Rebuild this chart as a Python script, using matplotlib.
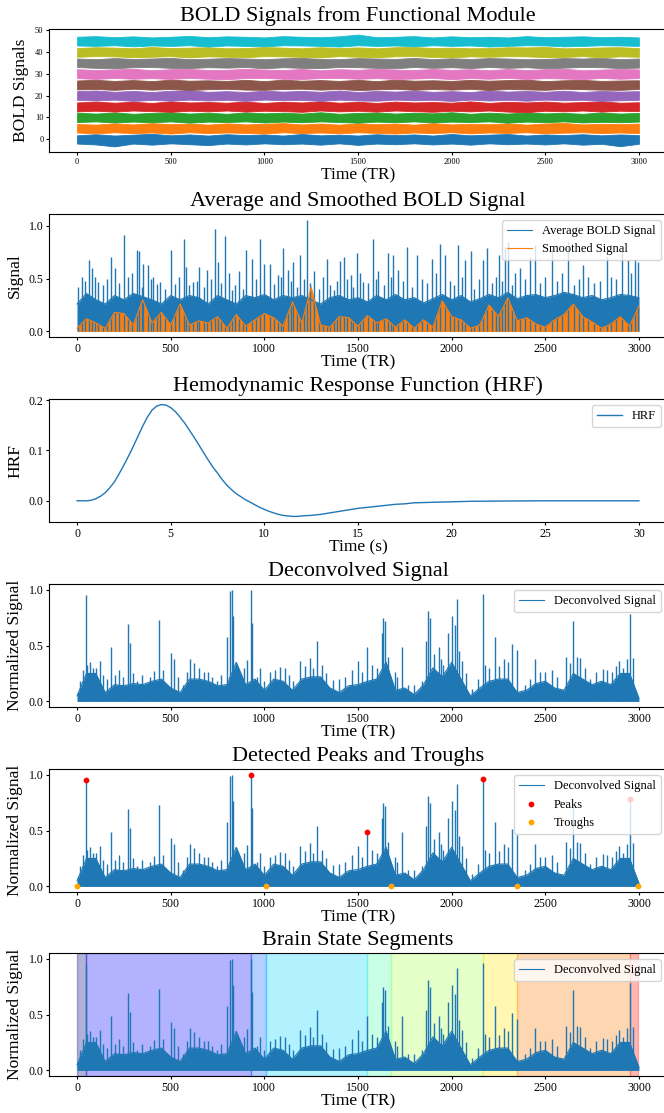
import matplotlib
matplotlib.use("Agg")
import numpy as np
import matplotlib.pyplot as plt

plt.rcParams["font.family"] = ["Liberation Serif", "DejaVu Serif"]

# ---- panel 1: ten module BOLD bands (offset 5 each), envelope every 100 TR
band_tr = np.arange(0, 3001, 100)
band_offsets = [0, 5, 10, 15, 20, 25, 30, 35, 40, 45]
m0_hi = [1.8, 2.3, 1.7, 2.1, 2.5, 1.8, 2.2, 1.7, 2.3, 1.9, 2.2, 1.7, 2.4, 1.8, 2.1, 1.7, 2.3, 1.9, 2.2, 1.7, 2.4, 1.8, 2.1, 2.4, 1.7, 2.2, 1.9, 2.3, 1.8, 2.2, 1.9]
m0_lo = [-2.0, -2.4, -3.3, -2.0, -2.5, -1.9, -2.3, -2.7, -2.0, -2.4, -1.9, -2.3, -2.0, -2.5, -1.9, -2.6, -2.0, -2.3, -1.9, -2.4, -2.0, -2.5, -1.9, -2.3, -2.0, -2.4, -1.9, -2.5, -2.1, -3.2, -2.1]
m1_hi = [2.0, 1.7, 2.3, 1.8, 2.4, 1.9, 2.2, 1.7, 2.3, 1.8, 2.1, 2.4, 1.8, 2.2, 1.7, 2.3, 1.9, 2.2, 1.7, 2.4, 1.8, 2.1, 1.9, 2.3, 1.7, 2.2, 2.5, 1.8, 2.1, 1.9, 2.2]
m1_lo = [-1.9, -2.3, -1.8, -2.2, -1.9, -2.4, -1.8, -2.2, -1.9, -2.1, -2.4, -1.8, -2.2, -1.9, -2.3, -1.8, -2.1, -2.4, -1.9, -2.2, -1.8, -2.3, -1.9, -2.1, -1.8, -2.3, -2.0, -1.8, -2.2, -1.9, -2.2]
m2_hi = [2.2, 1.8, 2.3, 1.7, 2.1, 2.4, 1.8, 2.2, 1.7, 2.3, 1.9, 2.2, 1.8, 2.4, 1.7, 2.1, 2.3, 1.8, 2.2, 1.9, 2.4, 1.7, 2.2, 1.8, 2.3, 1.9, 2.1, 1.7, 2.3, 1.8, 2.1]
m2_lo = [-2.1, -1.8, -2.3, -1.9, -2.2, -1.8, -2.4, -1.9, -2.1, -1.8, -2.3, -1.9, -2.2, -1.8, -2.1, -2.4, -1.9, -2.2, -1.8, -2.3, -1.9, -2.1, -1.8, -2.4, -1.9, -2.2, -1.8, -2.3, -2.0, -2.2, -1.9]
m3_hi = [1.9, 2.3, 1.8, 2.2, 1.7, 2.4, 1.9, 2.1, 1.8, 2.3, 1.7, 2.2, 1.9, 2.4, 1.8, 2.2, 1.7, 2.3, 1.9, 2.1, 1.8, 2.4, 1.7, 2.2, 1.9, 2.3, 1.8, 2.1, 2.4, 1.8, 2.0]
m3_lo = [-2.2, -1.9, -2.3, -1.8, -2.1, -2.4, -1.9, -2.2, -1.8, -2.3, -1.9, -2.1, -2.4, -1.8, -2.2, -1.9, -2.3, -1.8, -2.1, -2.4, -1.9, -2.2, -1.8, -2.3, -2.6, -1.9, -2.2, -1.8, -2.3, -1.9, -2.1]
m4_hi = [2.1, 2.4, 1.8, 2.2, 1.7, 2.3, 2.5, 1.8, 2.1, 1.7, 2.3, 1.9, 2.2, 1.8, 2.4, 1.7, 2.2, 1.9, 2.3, 1.8, 2.1, 1.7, 2.4, 1.9, 2.2, 1.8, 2.3, 1.7, 2.2, 1.9, 2.1]
m4_lo = [-1.9, -2.2, -1.8, -2.4, -1.9, -2.3, -1.8, -2.2, -1.9, -2.4, -1.8, -2.1, -1.9, -2.4, -1.8, -2.2, -2.3, -1.8, -2.1, -1.9, -2.4, -1.8, -2.2, -1.9, -2.3, -1.8, -2.1, -1.9, -2.4, -2.1, -1.9]
m5_hi = [2.0, 2.3, 1.8, 2.2, 1.7, 2.4, 1.9, 2.1, 1.8, 2.3, 1.7, 2.4, 1.9, 2.2, 1.8, 2.3, 1.7, 2.4, 1.9, 2.1, 1.8, 2.3, 1.9, 2.2, 2.4, 1.7, 2.1, 2.3, 1.8, 2.0, 2.1]
m5_lo = [-2.1, -1.9, -2.3, -1.8, -2.2, -1.9, -2.4, -2.0, -1.8, -2.2, -2.3, -1.9, -1.8, -2.2, -1.9, -2.4, -2.1, -1.8, -2.3, -1.9, -2.2, -1.8, -2.4, -1.9, -2.1, -2.3, -1.8, -2.0, -2.2, -2.3, -1.9]
m6_hi = [2.2, 1.8, 2.1, 2.4, 1.7, 2.2, 2.3, 1.8, 1.9, 2.4, 2.0, 1.8, 2.3, 1.7, 2.2, 1.9, 2.4, 2.0, 1.8, 2.3, 1.9, 2.2, 1.7, 2.3, 1.8, 2.2, 2.4, 1.7, 2.0, 2.3, 2.1]
m6_lo = [-1.9, -2.3, -1.8, -2.2, -1.9, -2.3, -1.8, -2.2, -2.4, -1.9, -1.8, -2.2, -2.3, -1.9, -1.8, -2.2, -1.9, -2.3, -2.1, -1.8, -2.4, -1.9, -2.2, -1.8, -2.3, -1.9, -2.1, -2.4, -1.8, -2.2, -1.9]
m7_hi = [2.1, 1.8, 2.3, 1.9, 2.1, 2.4, 1.8, 2.0, 2.3, 2.1, 1.8, 2.2, 2.4, 1.9, 1.8, 2.3, 2.1, 1.9, 2.4, 1.8, 2.2, 1.9, 2.3, 2.1, 1.8, 1.9, 2.3, 2.1, 2.4, 1.8, 2.1]
m7_lo = [-1.8, -2.2, -2.4, -1.9, -1.8, -2.2, -2.3, -1.9, -2.1, -1.8, -2.4, -1.9, -2.2, -2.3, -1.8, -1.9, -2.2, -2.4, -1.8, -2.2, -1.9, -2.3, -1.8, -2.2, -1.9, -2.4, -2.1, -1.8, -1.9, -2.3, -2.1]
m8_hi = [1.9, 2.3, 2.1, 1.8, 2.4, 1.9, 2.1, 2.3, 1.8, 1.9, 2.4, 2.1, 1.8, 2.3, 1.9, 2.2, 1.8, 2.3, 2.4, 1.9, 2.1, 1.8, 1.9, 2.3, 2.2, 2.4, 1.8, 1.9, 2.2, 2.3, 1.9]
m8_lo = [-2.1, -1.8, -1.9, -2.3, -2.1, -1.8, -2.4, -1.9, -2.1, -2.3, -1.8, -1.9, -2.2, -2.4, -1.8, -2.1, -2.3, -1.9, -1.8, -2.2, -2.4, -1.9, -2.1, -1.8, -1.9, -2.3, -2.2, -1.8, -2.4, -1.9, -2.1]
m9_hi = [2.1, 2.4, 1.9, 2.3, 1.8, 2.1, 2.5, 1.9, 2.3, 2.1, 1.8, 2.4, 2.1, 1.9, 2.3, 3.1, 1.9, 2.1, 2.4, 1.8, 2.3, 1.9, 2.1, 1.8, 2.4, 1.9, 2.1, 2.3, 1.9, 2.1, 1.8]
m9_lo = [-1.9, -2.1, -1.8, -2.3, -1.9, -2.1, -1.8, -2.4, -1.9, -2.1, -2.3, -1.8, -1.9, -2.1, -2.4, -1.8, -2.1, -1.9, -2.3, -1.8, -2.1, -1.9, -2.4, -2.1, -1.8, -1.9, -2.3, -2.1, -1.8, -1.9, -2.1]
band_hi = [m0_hi, m1_hi, m2_hi, m3_hi, m4_hi, m5_hi, m6_hi, m7_hi, m8_hi, m9_hi]
band_lo = [m0_lo, m1_lo, m2_lo, m3_lo, m4_lo, m5_lo, m6_lo, m7_lo, m8_lo, m9_lo]

# ---- panel 2: average BOLD (dense base every 50 TR + strokes) and smoothed
grid_tr = np.arange(0, 3001, 50)
avg_base = [0.26, 0.36, 0.30, 0.26, 0.34, 0.30, 0.36, 0.33, 0.30, 0.26, 0.34, 0.30, 0.34, 0.32, 0.26, 0.34,
            0.30, 0.26, 0.34, 0.32, 0.35, 0.30, 0.34, 0.32, 0.34, 0.30, 0.26, 0.32, 0.34, 0.30, 0.32,
            0.28, 0.34, 0.30, 0.35, 0.30, 0.32, 0.27, 0.31, 0.35, 0.30, 0.34, 0.28, 0.31, 0.35, 0.32,
            0.37, 0.31, 0.34, 0.35, 0.32, 0.34, 0.37, 0.35, 0.32, 0.34, 0.30, 0.32, 0.35, 0.34, 0.32]
avg_pk_tr = [7, 25, 66, 78, 114, 180, 203, 253, 274, 319, 331, 354, 376, 408, 443, 500, 524, 572, 583, 619,
             653, 694, 739, 755, 791, 826, 865, 902, 935, 978, 1000, 1028, 1071, 1100, 1125, 1155, 1191,
             1227, 1263, 1334, 1370, 1402, 1424, 1460, 1493, 1529, 1579, 1609, 1662, 1689, 1716, 1760,
             1814, 1894, 1938, 1965, 2036, 2072, 2102, 2170, 2191, 2255, 2285, 2303, 2365, 2418, 2445,
             2534, 2623, 2702, 2828, 2908, 2944, 2980, 2997]
avg_pk_val = [0.42, 0.52, 0.68, 0.60, 0.47, 0.71, 0.60, 0.91, 0.52, 0.77, 0.76, 0.64, 0.63, 0.52, 0.47, 0.77,
              0.45, 0.88, 0.61, 0.47, 0.61, 0.58, 0.97, 0.66, 0.90, 0.39, 0.57, 0.77, 0.69, 0.88, 0.64,
              0.64, 0.53, 0.79, 0.58, 0.66, 0.72, 1.06, 0.57, 0.69, 0.39, 0.67, 0.71, 0.53, 0.74, 0.47,
              0.88, 0.57, 0.74, 0.72, 0.58, 0.80, 0.72, 0.69, 0.83, 0.72, 0.82, 0.68, 0.76, 0.68, 0.79,
              0.72, 0.80, 0.85, 0.60, 0.71, 0.82, 0.79, 0.86, 0.63, 0.71, 0.76, 0.68, 0.69, 0.66]
avg_mid_tr = [40, 95, 140, 160, 225, 295, 345, 395, 425, 470,
              545, 600, 640, 675, 715, 770, 810, 845, 885, 955,
              1050, 1090, 1140, 1175, 1210, 1245, 1290, 1315, 1350, 1390,
              1440, 1475, 1510, 1555, 1595, 1640, 1675, 1740, 1790, 1840,
              1870, 1915, 1990, 2010, 2055, 2120, 2145, 2215, 2235, 2270,
              2320, 2340, 2390, 2470, 2500, 2560, 2590, 2655, 2680, 2730,
              2760, 2790, 2850, 2880, 2960]
avg_mid_val = [0.48, 0.52, 0.44, 0.50, 0.46, 0.55, 0.42, 0.50, 0.45, 0.40,
               0.52, 0.44, 0.48, 0.42, 0.50, 0.46, 0.55, 0.44, 0.40, 0.50,
               0.45, 0.52, 0.48, 0.42, 0.50, 0.46, 0.40, 0.52, 0.44, 0.48,
               0.50, 0.42, 0.55, 0.46, 0.50, 0.44, 0.52, 0.48, 0.42, 0.50,
               0.46, 0.55, 0.48, 0.44, 0.52, 0.40, 0.50, 0.46, 0.52, 0.48,
               0.44, 0.55, 0.50, 0.46, 0.52, 0.48, 0.55, 0.44, 0.50, 0.52,
               0.46, 0.48, 0.52, 0.50, 0.55]
smooth_val = [0.03, 0.12, 0.08, 0.03, 0.18, 0.17, 0.06, 0.30, 0.08, 0.18,
              0.06, 0.26, 0.06, 0.10, 0.08, 0.14, 0.03, 0.16, 0.05, 0.11,
              0.17, 0.13, 0.05, 0.28, 0.08, 0.42, 0.06, 0.04, 0.14, 0.13,
              0.05, 0.15, 0.08, 0.12, 0.04, 0.11, 0.03, 0.11, 0.04, 0.29,
              0.14, 0.11, 0.03, 0.06, 0.25, 0.14, 0.32, 0.10, 0.13, 0.07,
              0.04, 0.11, 0.16, 0.26, 0.14, 0.09, 0.03, 0.07, 0.14, 0.05,
              0.24]

# ---- panel 3: HRF, read every 0.25 s to 12 s, 0.5 s to 20 s, 1 s to 30 s
hrf_t = np.concatenate([np.arange(0, 12.01, 0.25), np.arange(12.5, 20.01, 0.5), np.arange(21, 30.01, 1)])
hrf_val = [0.0, 0.0, 0.0, 0.001, 0.004, 0.009, 0.016, 0.026, 0.038, 0.054, 0.071, 0.089, 0.108,
           0.128, 0.148, 0.166, 0.180, 0.188, 0.191, 0.190, 0.185, 0.177, 0.166, 0.154, 0.140,
           0.126, 0.111, 0.096, 0.081, 0.067, 0.055, 0.042, 0.031, 0.022, 0.014, 0.008, 0.002,
           -0.003, -0.008, -0.013, -0.017, -0.021, -0.024, -0.027, -0.029, -0.030, -0.031, -0.031, -0.030,
           -0.029, -0.027, -0.024, -0.021, -0.018, -0.015, -0.013, -0.011, -0.009, -0.007, -0.006,
           -0.004, -0.0035, -0.003, -0.0025, -0.002,
           -0.001, -0.0007, -0.0004, -0.0002, 0.0, 0.0, 0.0, 0.0, 0.0, 0.0]

# ---- panels 4-6: deconvolved signal (dense base every 50 TR + strokes)
dec_base = [0.05, 0.25, 0.25, 0.08, 0.15, 0.14, 0.16, 0.15, 0.18, 0.20, 0.12, 0.08, 0.20, 0.20, 0.18, 0.14,
            0.15, 0.35, 0.15, 0.20, 0.10, 0.20, 0.18, 0.10, 0.20, 0.22, 0.22, 0.12, 0.08, 0.14, 0.15,
            0.18, 0.20, 0.35, 0.10, 0.12, 0.06, 0.15, 0.30, 0.22, 0.35, 0.20, 0.05, 0.12, 0.18, 0.20,
            0.20, 0.08, 0.10, 0.16, 0.18, 0.12, 0.10, 0.25, 0.20, 0.15, 0.18, 0.15, 0.25, 0.25, 0.03]
dec_pk_tr = [7, 30, 48, 55, 70, 87, 120, 141, 180, 203, 225, 274, 283, 322, 390, 438, 500, 518, 568, 601,
             625, 675, 719, 746, 799, 817, 826, 832, 870, 906, 927, 934, 977, 1030, 1084, 1155, 1191,
             1244, 1280, 1306, 1369, 1466, 1502, 1547, 1574, 1627, 1636, 1645, 1698, 1734, 1769, 1840,
             1864, 1876, 1884, 1930, 1956, 1983, 2000, 2018, 2027, 2054, 2107, 2166, 2179, 2232, 2277,
             2324, 2347, 2391, 2445, 2499, 2535, 2612, 2650, 2686, 2739, 2806, 2854, 2895, 2917, 2952,
             2967, 2988]
dec_pk_val = [0.08, 0.28, 0.95, 0.33, 0.35, 0.30, 0.36, 0.24, 0.49, 0.24, 0.28, 0.69, 0.52, 0.18, 0.22, 0.73,
              0.43, 0.38, 0.15, 0.38, 0.34, 0.26, 0.22, 0.18, 0.58, 0.99, 1.0, 0.76, 0.18, 0.37, 1.0, 0.70,
              0.30, 0.26, 0.31, 0.18, 0.36, 0.39, 0.54, 0.33, 0.19, 0.28, 0.36, 0.49, 0.33, 0.61, 0.75,
              0.72, 0.26, 0.49, 0.15, 0.18, 0.54, 0.81, 0.75, 0.49, 0.33, 0.61, 0.76, 0.68, 0.92, 0.36,
              0.11, 0.96, 0.33, 0.58, 0.38, 0.51, 0.46, 0.15, 0.38, 0.26, 0.28, 0.40, 0.72, 0.39, 0.20,
              0.29, 0.26, 0.36, 0.30, 0.78, 0.39, 0.05]
dec_mid_tr = [15, 100, 160, 245, 300, 345, 410, 460, 540, 585,
              650, 700, 770, 850, 890, 960, 1000, 1055, 1110, 1130,
              1215, 1260, 1330, 1400, 1430, 1520, 1600, 1660, 1710, 1800,
              1905, 1945, 2040, 2075, 2140, 2200, 2255, 2300, 2420, 2470,
              2560, 2630, 2670, 2710, 2770, 2830, 2875, 2935]
dec_mid_val = [0.18, 0.30, 0.20, 0.22, 0.25, 0.24, 0.27, 0.28, 0.22, 0.26,
               0.30, 0.26, 0.24, 0.28, 0.30, 0.22, 0.18, 0.28, 0.30, 0.24,
               0.32, 0.30, 0.25, 0.20, 0.22, 0.26, 0.30, 0.40, 0.22, 0.15,
               0.42, 0.38, 0.45, 0.25, 0.20, 0.30, 0.32, 0.35, 0.20, 0.26,
               0.22, 0.34, 0.40, 0.30, 0.26, 0.28, 0.32, 0.38]
peak_tr = [48, 927, 1547, 2166, 2952]
peak_val = [0.95, 1.0, 0.49, 0.96, 0.78]
trough_tr = [0, 1008, 1675, 2351, 2997]
trough_val = [0.0, 0.0, 0.0, 0.0, 0.0]

tr_ticks = [0, 500, 1000, 1500, 2000, 2500, 3000]

fig = plt.figure(figsize=(6.64, 11.13), dpi=100)
H = 1113.0
tops = [29, 214, 399, 584, 769, 953]
axes = [fig.add_axes([49 / 664, (H - t - 123) / H, 618 / 664, 123 / H]) for t in tops]

TITLE = 16
LABEL = 12.5
TICK = 8.5
LEG = 9

# panel 1
ax = axes[0]
for i, off in enumerate(band_offsets):
    ax.fill_between(band_tr, np.array(band_lo[i]) + off, np.array(band_hi[i]) + off,
                    color=f"C{i}", lw=0.6, edgecolor=f"C{i}")
ax.set_xticks(tr_ticks)
ax.set_yticks([0, 10, 20, 30, 40, 50])
ax.tick_params(labelsize=6, length=2.5, pad=1.5)
ax.set_title("BOLD Signals from Functional Module", fontsize=TITLE)
ax.set_xlabel("Time (TR)", fontsize=LABEL, labelpad=1)
ax.set_ylabel("BOLD Signals", fontsize=LABEL)

# panel 2
ax = axes[1]
ax.fill_between(grid_tr, 0, avg_base, color="C0", lw=0)
ax.vlines(avg_mid_tr, 0, avg_mid_val, color="C0", lw=1.0)
ax.vlines(avg_pk_tr, 0, avg_pk_val, color="C0", lw=1.0)
ax.plot(grid_tr, avg_base, color="C0", lw=0.8, label="Average BOLD Signal")
ax.fill_between(grid_tr, 0, smooth_val, color="C1", lw=0)
ax.plot(grid_tr, smooth_val, color="C1", lw=0.8, label="Smoothed Signal")
ax.set_xticks(tr_ticks)
ax.set_yticks([0.0, 0.5, 1.0])
ax.set_title("Average and Smoothed BOLD Signal", fontsize=TITLE)
ax.set_xlabel("Time (TR)", fontsize=LABEL, labelpad=0)
ax.set_ylabel("Signal", fontsize=LABEL)
ax.legend(loc="upper right", fontsize=LEG)

# panel 3
ax = axes[2]
ax.plot(hrf_t, hrf_val, color="C0", lw=1.0, label="HRF")
ax.set_xticks([0, 5, 10, 15, 20, 25, 30])
ax.set_yticks([0.0, 0.1, 0.2])
ax.set_title("Hemodynamic Response Function (HRF)", fontsize=TITLE)
ax.set_xlabel("Time (s)", fontsize=LABEL, labelpad=0)
ax.set_ylabel("HRF", fontsize=LABEL)
ax.legend(loc="upper right", fontsize=LEG)


def draw_dec(ax):
    ax.fill_between(grid_tr, 0, dec_base, color="C0", lw=0)
    ax.vlines(dec_mid_tr, 0, dec_mid_val, color="C0", lw=1.0)
    ax.vlines(dec_pk_tr, 0, dec_pk_val, color="C0", lw=1.0)
    ax.plot(grid_tr, dec_base, color="C0", lw=0.8, label="Deconvolved Signal")


# panel 4
ax = axes[3]
draw_dec(ax)
ax.set_title("Deconvolved Signal", fontsize=TITLE)

# panel 5
ax = axes[4]
draw_dec(ax)
ax.scatter(peak_tr, peak_val, color="red", s=10, zorder=3, label="Peaks")
ax.scatter(trough_tr, trough_val, color="orange", s=10, zorder=3, label="Troughs")
ax.set_title("Detected Peaks and Troughs", fontsize=TITLE)

# panel 6: segments between consecutive peaks/troughs
ax = axes[5]
bounds = sorted(peak_tr + trough_tr)
seg_colors = plt.cm.jet(np.linspace(0, 1, len(bounds)))
for i in range(len(bounds) - 1):
    ax.axvspan(bounds[i], bounds[i + 1], color=seg_colors[i], alpha=0.3)
draw_dec(ax)
ax.set_title("Brain State Segments", fontsize=TITLE)

for ax in axes[3:]:
    ax.set_xticks(tr_ticks)
    ax.set_yticks([0.0, 0.5, 1.0])
    ax.set_xlabel("Time (TR)", fontsize=LABEL, labelpad=0)
    ax.set_ylabel("Normalized Signal", fontsize=LABEL)
    ax.legend(loc="upper right", fontsize=LEG)

for ax in axes[1:]:
    ax.tick_params(labelsize=TICK, length=2.5, pad=1.5)

fig.savefig("out.png", dpi=100)
